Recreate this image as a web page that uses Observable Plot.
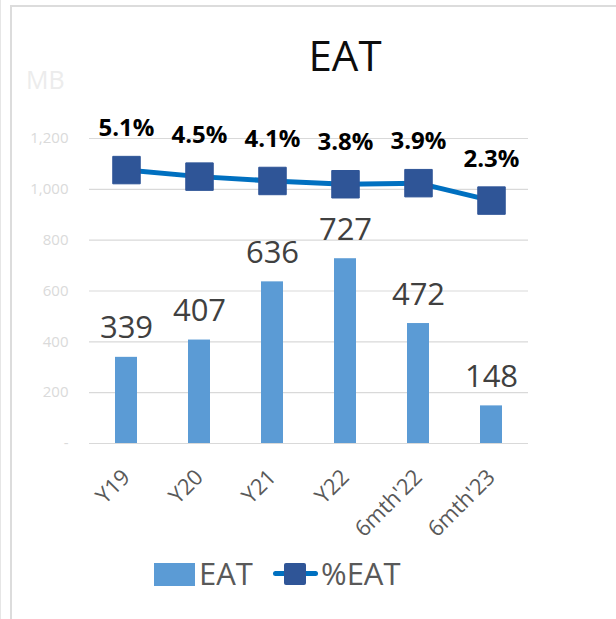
<!DOCTYPE html>
<html>
<head>
<meta charset="utf-8">
<script src="https://cdn.jsdelivr.net/npm/d3@7"></script>
<script src="https://cdn.jsdelivr.net/npm/@observablehq/plot@0.6"></script>
<style>
  html, body { margin: 0; padding: 0; background: #fff; }
  #wrap { position: relative; width: 616px; height: 619px; overflow: hidden; font-family: "Open Sans", sans-serif; }
  #frame { position: absolute; left: 10px; top: 5px; width: 620px; height: 620px; border-left: 2px solid #dcdcdc; border-top: 2px solid #dcdcdc; }
  #edge { position: absolute; left: 0; top: 0; width: 1px; height: 619px; background: #e6e6e6; }
  #title { position: absolute; top: 34px; left: 345px; transform: translateX(-50%); font-size: 42px; line-height: 42px; color: #0d0d0d; white-space: nowrap; }
  #unit { position: absolute; top: 67px; left: 26px; font-size: 25px; line-height: 25px; color: #ececec; }
  #chart { position: absolute; left: 0; top: 90px; }
  .lg { position: absolute; }
  .lgtext { font-size: 31px; line-height: 31px; color: #595959; top: 558px; }
</style>
</head>
<body>
<div id="wrap">
  <div id="edge"></div>
  <div id="frame"></div>
  <div id="title">EAT</div>
  <div id="unit">MB</div>
  <div id="chart"></div>
  <div class="lg" style="left:154px; top:563px; width:41px; height:23px; background:#5b9bd5;"></div>
  <div class="lg lgtext" style="left:199px;">EAT</div>
  <div class="lg" style="left:273px; top:571px; width:45px; height:5px; border-radius:3px; background:#0070c0;"></div>
  <div class="lg" style="left:284px; top:563px; width:22px; height:22px; border-radius:2px; background:#2f5597;"></div>
  <div class="lg lgtext" style="left:321px;">%EAT</div>
</div>
<script>
const categories = ["Y19", "Y20", "Y21", "Y22", "6mth'22", "6mth'23"];
const eatValues = [339, 407, 636, 727, 472, 148];
const eatPct = [5.1, 4.5, 4.1, 3.8, 3.9, 2.3];
const yTicks = [0, 200, 400, 600, 800, 1000, 1200];
const yDomain = [0, 1200];
const pctAxisDomain = [-20, 8]; // hidden secondary axis (percent)

// secondary axis mapped onto the primary one
const pctToPrimary = d3.scaleLinear().domain(pctAxisDomain).range(yDomain);

const data = categories.map((c, i) => ({cat: c, eat: eatValues[i], pct: eatPct[i]}));

const chart = Plot.plot({
  width: 616,
  height: 460,
  marginLeft: 89,
  marginRight: 88,
  marginTop: 48,
  marginBottom: 107,
  style: {fontFamily: "'Open Sans', sans-serif", background: "transparent", overflow: "visible"},
  x: {domain: categories, paddingInner: 0.7, paddingOuter: 0.35, label: null},
  y: {domain: yDomain, label: null},
  marks: [
    Plot.gridY(yTicks, {stroke: "#d9d9d9", strokeOpacity: 1, strokeWidth: 1.2}),
    Plot.axisY(yTicks, {
      tickSize: 0, tickPadding: 21, fontSize: 15, color: "#dadada", label: null,
      tickFormat: d => d === 0 ? "-" : d3.format(",")(d)
    }),
    Plot.axisX({
      tickSize: 0, tickPadding: 30, tickRotate: -45, fontSize: 22, color: "#595959", label: null
    }),
    Plot.barY(data, {x: "cat", y: "eat", fill: "#5b9bd5"}),
    Plot.text(data, {
      x: "cat", y: "eat", text: d => String(d.eat), dy: -19, lineAnchor: "bottom",
      fontSize: 31, fill: "#404040"
    }),
    Plot.line(data, {x: "cat", y: d => pctToPrimary(d.pct), stroke: "#0070c0", strokeWidth: 5}),
    Plot.dot(data, {
      x: "cat", y: d => pctToPrimary(d.pct), symbol: "square", r: 15.5,
      fill: "#2f5597", stroke: "#2f5597", strokeWidth: 1, strokeLinejoin: "round"
    }),
    Plot.text(data, {
      x: "cat", y: d => pctToPrimary(d.pct), text: d => d.pct.toFixed(1) + "%",
      dy: -34, lineAnchor: "bottom", fontSize: 24, fontWeight: "bold", fill: "#000"
    })
  ]
});
document.getElementById("chart").appendChild(chart);
</script>
</body>
</html>
